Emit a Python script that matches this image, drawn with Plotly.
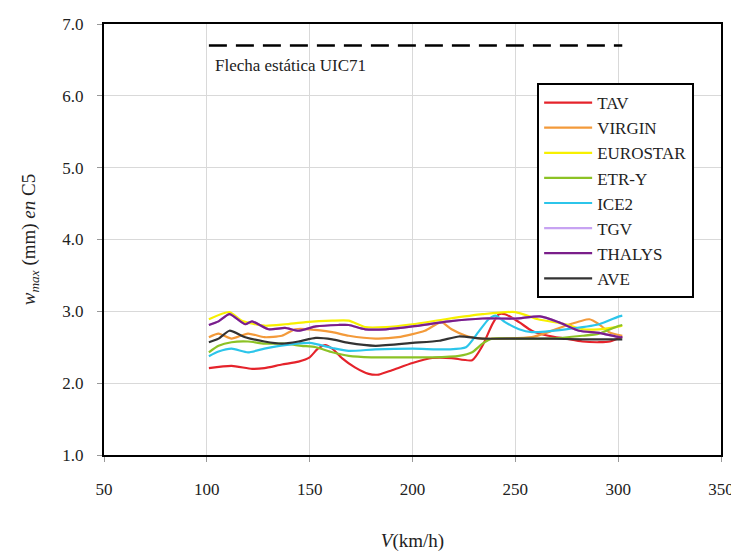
import plotly.graph_objects as go

# ---------------- data ----------------
tav_x = [101, 112, 122, 128, 136.5, 144.6, 150, 154, 157.6, 161, 165.7, 172, 178.7, 183.6, 190, 200, 209.6, 219, 229, 234, 238.8, 242, 245, 251.8, 258, 266, 274.5, 282.6, 290.7, 296, 302]
tav_y = [2.21, 2.24, 2.20, 2.21, 2.26, 2.30, 2.36, 2.48, 2.53, 2.48, 2.35, 2.22, 2.13, 2.12, 2.18, 2.28, 2.35, 2.35, 2.32, 2.52, 2.82, 2.96, 2.96, 2.85, 2.73, 2.66, 2.62, 2.58, 2.57, 2.58, 2.65]

virgin_x = [101, 105.7, 112, 120, 128, 136.5, 143, 150, 161, 169, 182, 193, 206, 214, 219, 226, 234, 242, 258, 266, 274.5, 286, 290.7, 295.6, 302]
virgin_y = [2.64, 2.69, 2.62, 2.69, 2.64, 2.66, 2.75, 2.75, 2.71, 2.66, 2.62, 2.64, 2.73, 2.85, 2.75, 2.66, 2.62, 2.62, 2.64, 2.71, 2.80, 2.89, 2.82, 2.71, 2.66]

eurostar_x = [101, 111, 117, 128, 138, 148, 161, 169, 177, 187, 200, 216, 234, 250, 261, 274.5, 283, 290.7, 299, 302]
eurostar_y = [2.89, 2.99, 2.87, 2.80, 2.82, 2.85, 2.87, 2.87, 2.78, 2.78, 2.82, 2.89, 2.96, 2.99, 2.89, 2.82, 2.75, 2.75, 2.78, 2.80]

etry_x = [101, 105.7, 112, 120, 128, 138, 146, 153, 161, 169, 180, 193, 209.6, 222.6, 229, 234, 238.8, 250, 266, 282.6, 290.7, 300.5, 302]
etry_y = [2.43, 2.52, 2.57, 2.58, 2.55, 2.55, 2.52, 2.50, 2.43, 2.38, 2.36, 2.36, 2.36, 2.38, 2.43, 2.55, 2.62, 2.62, 2.62, 2.66, 2.69, 2.80, 2.81]

ice2_x = [101, 105.7, 112, 120, 128, 138, 150, 161, 169, 182, 200, 217.7, 226, 232, 237, 240.4, 245, 251.8, 258, 274.5, 290.7, 300.5, 302]
ice2_y = [2.375, 2.44, 2.48, 2.43, 2.48, 2.53, 2.56, 2.49, 2.45, 2.47, 2.48, 2.47, 2.50, 2.71, 2.89, 2.94, 2.85, 2.75, 2.71, 2.75, 2.82, 2.93, 2.94]

tgv_x = [101, 105.7, 111, 118.7, 122, 130, 138, 144.6, 153, 164, 169, 177, 187, 200, 217.7, 234, 250, 262, 271, 281, 290.7, 300.5, 302]
tgv_y = [2.81, 2.86, 2.96, 2.82, 2.86, 2.75, 2.77, 2.73, 2.79, 2.81, 2.81, 2.75, 2.75, 2.79, 2.86, 2.90, 2.90, 2.93, 2.85, 2.73, 2.70, 2.64, 2.64]

thalys_x = [101, 105.7, 111, 118.7, 122, 130, 138, 144.6, 153, 164, 169, 177, 187, 200, 217.7, 234, 250, 262, 271, 281, 290.7, 300.5, 302]
thalys_y = [2.81, 2.86, 2.96, 2.82, 2.86, 2.75, 2.77, 2.73, 2.79, 2.81, 2.81, 2.75, 2.75, 2.79, 2.86, 2.90, 2.90, 2.93, 2.85, 2.73, 2.70, 2.64, 2.64]

ave_x = [101, 105.7, 111, 118.7, 128, 136.5, 144.6, 153, 161, 169, 182, 200, 213, 222.6, 234, 250, 266, 282.6, 300.5, 302]
ave_y = [2.57, 2.62, 2.73, 2.64, 2.58, 2.55, 2.58, 2.63, 2.61, 2.56, 2.52, 2.56, 2.59, 2.65, 2.62, 2.62, 2.62, 2.61, 2.61, 2.61]

uic_x = [101, 302]
uic_y = [6.7, 6.7]
uic_label = "Flecha estática UIC71"

x_ticks = [50, 100, 150, 200, 250, 300, 350]
y_ticks = [1.0, 2.0, 3.0, 4.0, 5.0, 6.0, 7.0]

series = [
    ("TAV", tav_x, tav_y, "#e5232b"),
    ("VIRGIN", virgin_x, virgin_y, "#f39a3a"),
    ("EUROSTAR", eurostar_x, eurostar_y, "#f7f000"),
    ("ETR-Y", etry_x, etry_y, "#8cc225"),
    ("ICE2", ice2_x, ice2_y, "#2cc5ea"),
    ("TGV", tgv_x, tgv_y, "#c7a3f2"),
    ("THALYS", thalys_x, thalys_y, "#7a1e8a"),
    ("AVE", ave_x, ave_y, "#333333"),
]

FONT = "Liberation Serif"
TXT = "#222222"

fig = go.Figure()

fig.add_trace(go.Scatter(x=uic_x, y=uic_y, mode="lines", showlegend=False,
                         line=dict(color="black", width=2.5, dash="18px,9px"),
                         hoverinfo="skip"))

for name, xs, ys, col in series:
    fig.add_trace(go.Scatter(x=xs, y=ys, mode="lines", name=name,
                             line=dict(color=col, width=2.2, shape="spline", smoothing=0.6)))

fig.add_annotation(x=103, y=6.42, text=uic_label, showarrow=False,
                   xanchor="left", yanchor="middle",
                   font=dict(family=FONT, size=17, color=TXT))

# the page body has an 8px margin, so the figure is sized and placed to compensate
fig.update_layout(
    width=731, height=546,
    margin=dict(l=96, r=18, t=16, b=99),
    paper_bgcolor="white", plot_bgcolor="white",
    font=dict(family=FONT, size=17, color=TXT),
    legend=dict(x=0.702, y=0.863, xanchor="left", yanchor="top",
                bordercolor="black", borderwidth=2, bgcolor="white",
                font=dict(family=FONT, size=17, color=TXT),
                tracegroupgap=0, itemwidth=48),
    showlegend=True,
)

fig.update_xaxes(range=[50, 350], tickvals=x_ticks, ticktext=[str(v) for v in x_ticks],
                 tickfont=dict(family=FONT, size=17, color=TXT),
                 showgrid=True, gridcolor="#d9d9d9", gridwidth=1,
                 showline=True, linecolor="black", linewidth=2, mirror=True,
                 ticks="outside", ticklen=5, tickcolor="#999", zeroline=False,
                 ticklabelstandoff=13, automargin=False, ticklabeloverflow="allow",
                 title=dict(text="<i>V</i>(km/h)", font=dict(family=FONT, size=19, color=TXT), standoff=35))

fig.update_yaxes(range=[1.0, 7.0], tickvals=y_ticks, ticktext=[f"{v:.1f}" for v in y_ticks],
                 tickfont=dict(family=FONT, size=17, color=TXT),
                 showgrid=True, gridcolor="#d9d9d9", gridwidth=1,
                 showline=True, linecolor="black", linewidth=2, mirror=True,
                 ticks="outside", ticklen=5, tickcolor="#999", zeroline=False,
                 ticklabelstandoff=10, automargin=False, ticklabeloverflow="allow",
                 title=dict(text="<i>w</i><sub><i>max</i></sub> (mm) <i>en</i> C5",
                            font=dict(family=FONT, size=19, color=TXT), standoff=22))

fig.write_html("out.html")
